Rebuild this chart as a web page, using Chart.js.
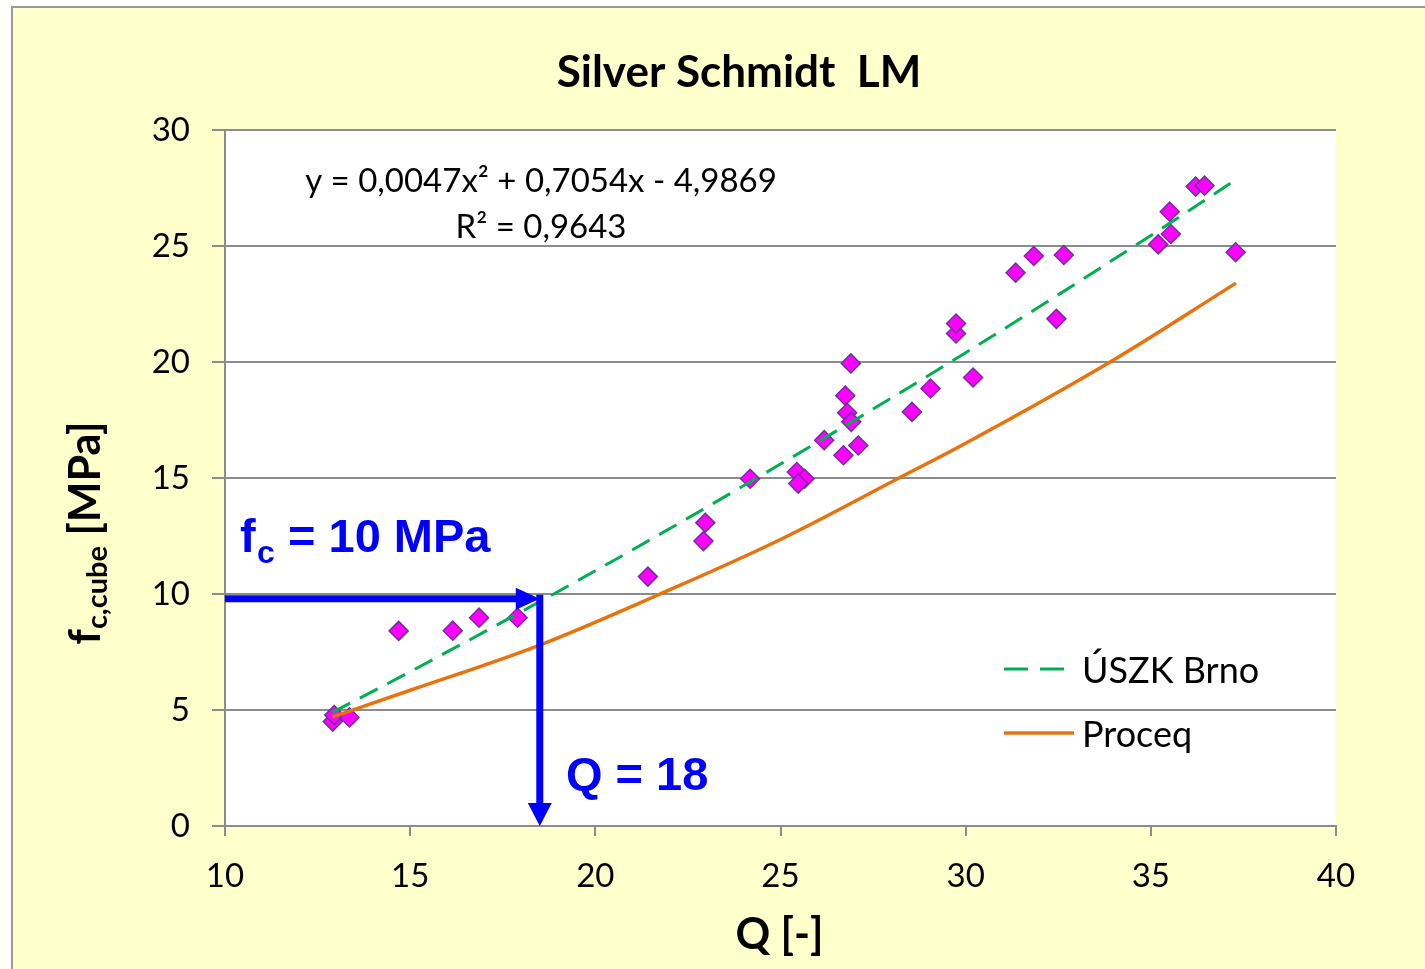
<!DOCTYPE html>
<html>
<head>
<meta charset="utf-8">
<title>Silver Schmidt LM</title>
<script src="https://cdn.jsdelivr.net/npm/chart.js@4.4.1/dist/chart.umd.min.js"></script>
<style>
    html, body { margin: 0; padding: 0; background: #fff; }
    canvas { display: block; }
</style>
</head>
<body>
<canvas id="chart" width="1425" height="969"></canvas>
<script>
// Naměřené hodnoty: Q [-] a fc,cube [MPa]
const qValues = [12.91, 12.95, 13.36, 14.69, 16.15, 16.86, 17.90, 21.42, 22.92, 22.97, 24.18, 25.44,
    25.65, 25.48, 26.18, 26.70, 27.10, 26.75, 26.80, 26.91, 26.90, 28.55, 29.05, 29.74,
    29.74, 30.20, 31.35, 31.84, 32.65, 32.45, 35.20, 35.54, 35.51, 36.21, 36.45, 37.29];
const fcValues = [4.50, 4.78, 4.68, 8.41, 8.42, 8.98, 8.98, 10.75, 12.28, 13.07, 14.97, 15.26,
    14.97, 14.76, 16.63, 15.98, 16.40, 18.55, 17.81, 17.42, 19.94, 17.85, 18.86, 21.23,
    21.66, 19.33, 23.85, 24.57, 24.61, 21.86, 25.07, 25.52, 26.48, 27.56, 27.60, 24.73];

// Regresní křivka ÚSZK Brno
const trendQ = [12.9, 15, 20, 25, 30, 35, 37.15];
const trendFc = [4.9, 6.65, 11.0, 15.6, 20.4, 25.45, 27.7];

// Křivka výrobce Proceq
const proceqQ = [12.9, 15, 18.5, 21.75, 25, 28.2, 30, 33.9, 37.3];
const proceqFc = [4.7, 5.85, 7.8, 10.0, 12.35, 15.0, 16.5, 20.0, 23.4];

// Popisky os
const xTicks = [10, 15, 20, 25, 30, 35, 40];
const yTicks = [0, 5, 10, 15, 20, 25, 30];

// Vyznačený odečet (šipky)
const readQ = 18.5;
const readFc = 9.8;

const GRID = '#8c8c8c';
const BLUE = '#0000FF';

function toPoints(xs, ys) {
    return xs.map((x, i) => ({ x: x, y: ys[i] }));
}

// Pozadí, šipky a texty kreslené přímo na canvas
const decorPlugin = {
    id: 'decor',
    beforeDraw(chart) {
        const ctx = chart.ctx;
        const a = chart.chartArea;
        ctx.save();
        ctx.fillStyle = '#fff';
        ctx.fillRect(0, 0, chart.width, chart.height);
        ctx.fillStyle = '#FFFFCC';
        ctx.fillRect(12, 7, chart.width - 12, chart.height - 7);
        ctx.strokeStyle = '#9a9a9a';
        ctx.lineWidth = 2;
        ctx.beginPath();
        ctx.moveTo(12, chart.height);
        ctx.lineTo(12, 7);
        ctx.lineTo(chart.width, 7);
        ctx.stroke();
        ctx.fillStyle = '#fff';
        ctx.fillRect(a.left, a.top, a.right - a.left, a.bottom - a.top);
        ctx.restore();
    },
    afterDatasetsDraw(chart) {
        const ctx = chart.ctx;
        const xs = chart.scales.x;
        const ys = chart.scales.y;
        const x0 = xs.getPixelForValue(xs.min);
        const xr = xs.getPixelForValue(readQ);
        const yr = ys.getPixelForValue(readFc);
        const yb = ys.getPixelForValue(0);
        ctx.save();
        ctx.strokeStyle = BLUE;
        ctx.fillStyle = BLUE;
        ctx.lineWidth = 7;
        // vodorovná šipka
        ctx.beginPath();
        ctx.moveTo(x0, yr);
        ctx.lineTo(xr - 20, yr);
        ctx.stroke();
        ctx.beginPath();
        ctx.moveTo(xr - 24, yr - 11);
        ctx.lineTo(xr, yr);
        ctx.lineTo(xr - 24, yr + 11);
        ctx.closePath();
        ctx.fill();
        // svislá šipka
        ctx.beginPath();
        ctx.moveTo(xr, yr - 4);
        ctx.lineTo(xr, yb - 20);
        ctx.stroke();
        ctx.beginPath();
        ctx.moveTo(xr - 12, yb - 23);
        ctx.lineTo(xr, yb);
        ctx.lineTo(xr + 12, yb - 23);
        ctx.closePath();
        ctx.fill();
        ctx.restore();
    },
    afterDraw(chart) {
        const ctx = chart.ctx;
        const a = chart.chartArea;
        ctx.save();
        ctx.fillStyle = '#000';
        ctx.textBaseline = 'alphabetic';

        // nadpis
        ctx.textAlign = 'center';
        ctx.font = 'bold 44px Lato';
        ctx.fillText('Silver Schmidt  LM', 739, 87);

        // rovnice regrese
        ctx.font = '33px Lato';
        ctx.fillText('y = 0,0047x² + 0,7054x - 4,9869', 541, 192);
        ctx.fillText('R² = 0,9643', 541, 238);

        // popis osy x
        ctx.font = 'bold 43px Lato';
        ctx.fillText('Q [-]', (a.left + a.right) / 2 - 1, 949);

        // popis osy y (otočený, s indexem)
        ctx.save();
        ctx.translate(100, 533);
        ctx.rotate(-Math.PI / 2);
        ctx.textAlign = 'left';
        const mainFont = 'bold 43px Lato';
        const subFont = 'bold 29px Lato';
        ctx.font = mainFont;
        const wF = ctx.measureText('f').width;
        const wTail = ctx.measureText(' [MPa]').width;
        ctx.font = subFont;
        const wSub = ctx.measureText('c,cube').width;
        let px = -(wF + wSub + wTail) / 2;
        ctx.font = mainFont;
        ctx.fillText('f', px, 0);
        px += wF;
        ctx.font = subFont;
        ctx.fillText('c,cube', px, 7);
        px += wSub;
        ctx.font = mainFont;
        ctx.fillText(' [MPa]', px, 0);
        ctx.restore();

        // legenda
        ctx.lineWidth = 3;
        ctx.strokeStyle = '#00B050';
        ctx.setLineDash([24, 12]);
        ctx.beginPath();
        ctx.moveTo(1004, 669);
        ctx.lineTo(1066, 669);
        ctx.stroke();
        ctx.setLineDash([]);
        ctx.lineWidth = 3.5;
        ctx.strokeStyle = '#E8730C';
        ctx.beginPath();
        ctx.moveTo(1004, 733);
        ctx.lineTo(1074, 733);
        ctx.stroke();
        ctx.textAlign = 'left';
        ctx.font = '36px Lato';
        ctx.fillText('ÚSZK Brno', 1082, 683);
        ctx.fillText('Proceq', 1082, 747);

        // modré popisky odečtu
        ctx.fillStyle = BLUE;
        ctx.font = 'bold 47px "Liberation Sans", Arial';
        ctx.fillText('f', 240, 552);
        ctx.font = 'bold 32px "Liberation Sans", Arial';
        ctx.fillText('c', 257, 563);
        ctx.font = 'bold 47px "Liberation Sans", Arial';
        ctx.fillText('= 10 MPa', 288, 552);
        ctx.fillText('Q = 18', 566, 790);
        ctx.restore();
    }
};

new Chart(document.getElementById('chart'), {
    type: 'scatter',
    data: {
        datasets: [
            {
                label: 'ÚSZK Brno',
                data: toPoints(trendQ, trendFc),
                showLine: true,
                borderColor: '#00B050',
                borderWidth: 3,
                borderDash: [20, 11],
                pointRadius: 0,
                cubicInterpolationMode: 'monotone'
            },
            {
                label: 'Proceq',
                data: toPoints(proceqQ, proceqFc),
                showLine: true,
                borderColor: '#E8730C',
                borderWidth: 3.5,
                pointRadius: 0,
                cubicInterpolationMode: 'monotone'
            },
            {
                label: 'Měření',
                data: toPoints(qValues, fcValues),
                pointStyle: 'rectRot',
                pointRadius: 9.5,
                backgroundColor: '#FF00FF',
                borderColor: '#7030A0',
                borderWidth: 1.5
            }
        ]
    },
    options: {
        responsive: false,
        animation: false,
        events: [],
        layout: { padding: { top: 130, right: 89, left: 0, bottom: 0 } },
        plugins: {
            legend: { display: false },
            title: { display: false },
            tooltip: { enabled: false }
        },
        scales: {
            x: {
                type: 'linear',
                min: 10,
                max: 40,
                afterFit: s => { s.height = 143; },
                afterBuildTicks: s => { s.ticks = xTicks.map(v => ({ value: v })); },
                ticks: { font: { family: 'Lato', size: 33 }, color: '#000', padding: 21 },
                grid: { drawOnChartArea: false, drawTicks: true, tickLength: 10, color: GRID, lineWidth: 2 },
                border: { color: GRID, width: 2 }
            },
            y: {
                type: 'linear',
                min: 0,
                max: 30,
                afterFit: s => { s.width = 225; },
                afterBuildTicks: s => { s.ticks = yTicks.map(v => ({ value: v })); },
                ticks: { font: { family: 'Lato', size: 33 }, color: '#000', padding: 22 },
                grid: { color: GRID, lineWidth: 2, tickLength: 13 },
                border: { color: GRID, width: 2 }
            }
        }
    },
    plugins: [decorPlugin]
});
</script>
</body>
</html>
